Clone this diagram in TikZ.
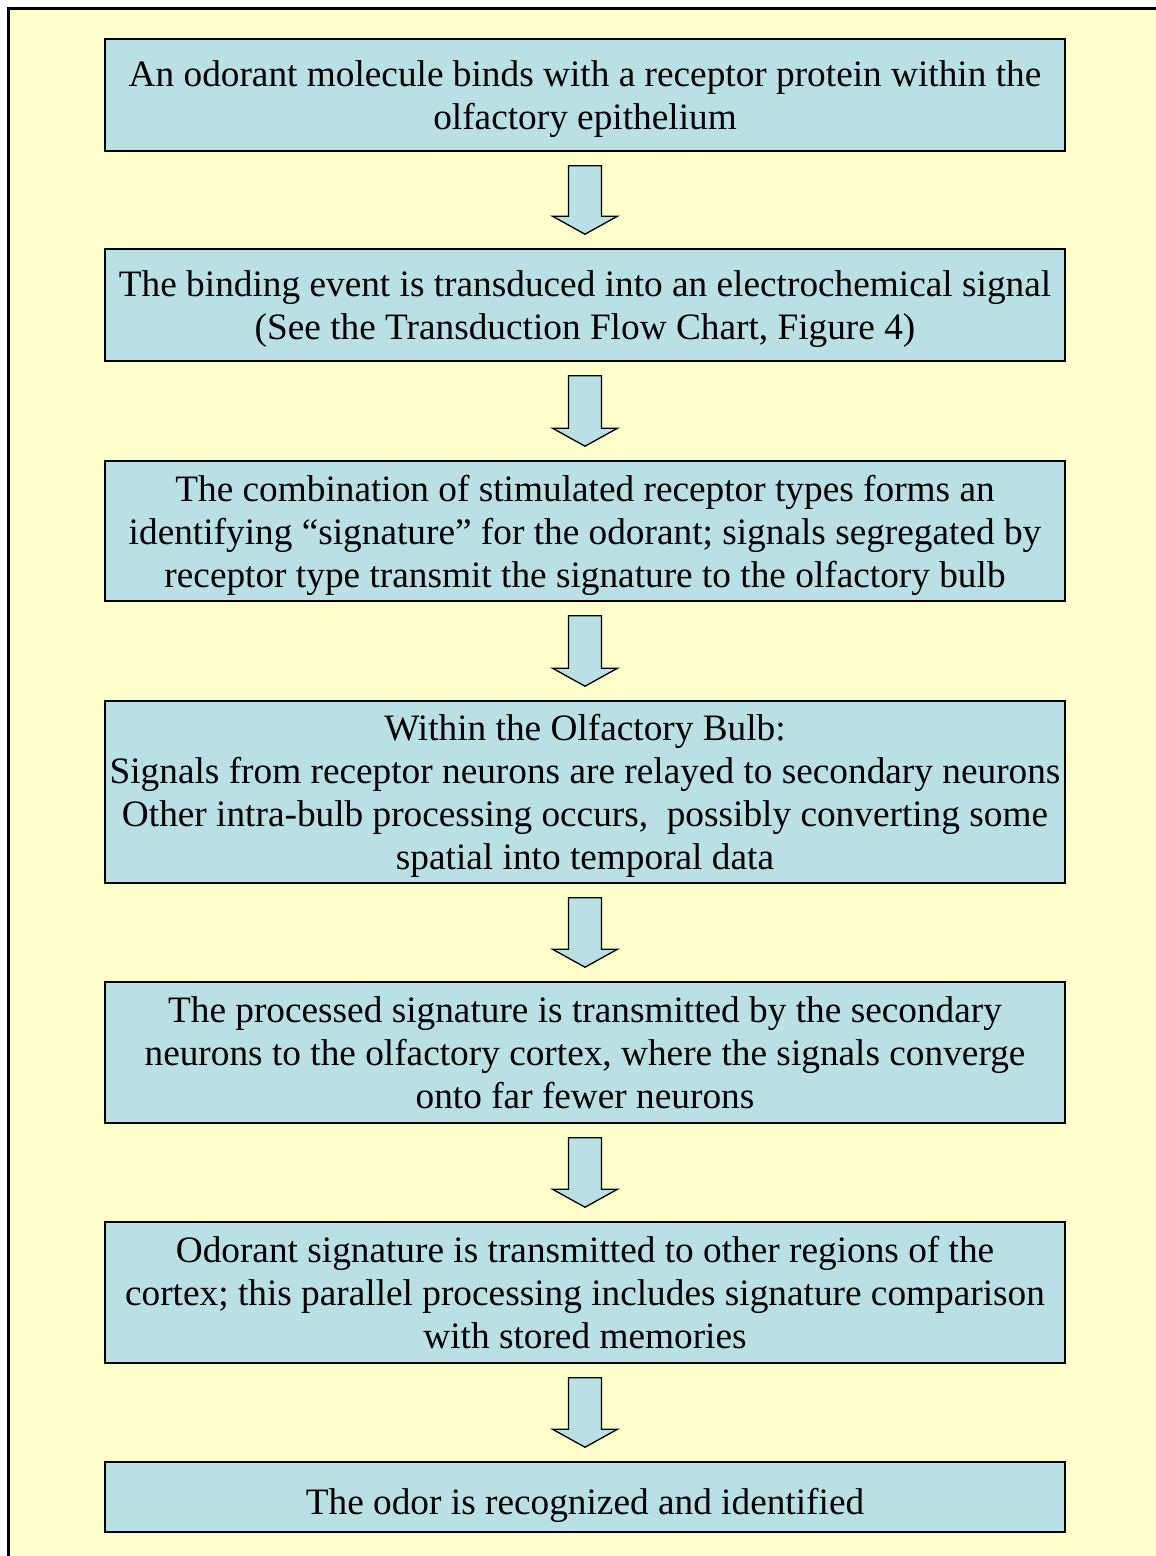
\documentclass[tikz,border=0pt]{standalone}
\usepackage{fontspec}
\setmainfont{Liberation Serif}
\usetikzlibrary{positioning}
\usetikzlibrary{calc}
\definecolor{paper}{RGB}{255,255,204}
\definecolor{stepfill}{RGB}{185,224,228}

\begin{document}
\begin{tikzpicture}[
        x=1pt, y=-1pt,
        box/.style={draw, line width=1.6pt, fill=stepfill, rectangle, minimum width=960pt, align=center,
            font=\fontsize{37.3pt}{43pt}\selectfont, inner sep=0pt, text depth=0pt,
            execute at begin node={\rule{0pt}{35pt}}},
        blockarrow/.style={draw, line width=1.3pt, fill=stepfill, line join=miter},
    ]
        \useasboundingbox (0,0) rectangle (1156,1556);
        \fill[paper] (8.5,8.5) rectangle (1156,1556);
        \draw[line width=3pt] (8.5,1556) -- (8.5,8.5) -- (1156,8.5);

        \node[box, minimum height=112pt] (bind) at (585,95) {An odorant molecule binds with a receptor protein within the\\olfactory epithelium};
        \node[box, minimum height=112pt] (transduce) at (585,305) {The binding event is transduced into an electrochemical signal\\(See the Transduction Flow Chart, Figure 4)};
        \node[box, minimum height=140pt] (signature) at (585,531) {The combination of stimulated receptor types forms an\\identifying ``signature'' for the odorant; signals segregated by\\receptor type transmit the signature to the olfactory bulb};
        \node[box, minimum height=182pt] (bulb) at (585,792) {Within the Olfactory Bulb:\\Signals from receptor neurons are relayed to secondary neurons\\Other intra-bulb processing occurs,~ possibly converting some\\spatial into temporal data};
        \node[box, minimum height=141pt] (cortex) at (585,1052.5) {The processed signature is transmitted by the secondary\\neurons to the olfactory cortex, where the signals converge\\onto far fewer neurons};
        \node[box, minimum height=141pt] (regions) at (585,1292.5) {Odorant signature is transmitted to other regions of the\\cortex; this parallel processing includes signature comparison\\with stored memories};
        \node[box, minimum height=70pt] (identified) at (585,1497) {The odor is recognized and identified};

        \foreach \a/\b in {bind/transduce, transduce/signature, signature/bulb, bulb/cortex, cortex/regions, regions/identified}
            \draw[blockarrow] ($(\a.south)+(-16.5,14)$) -- ($(\a.south)+(16.5,14)$)
                -- ($(\b.north)+(16.5,-32)$) -- ($(\b.north)+(32.5,-32)$)
                -- ($(\b.north)+(0,-14)$)
                -- ($(\b.north)+(-32.5,-32)$) -- ($(\b.north)+(-16.5,-32)$) -- cycle;
\end{tikzpicture}
\end{document}
